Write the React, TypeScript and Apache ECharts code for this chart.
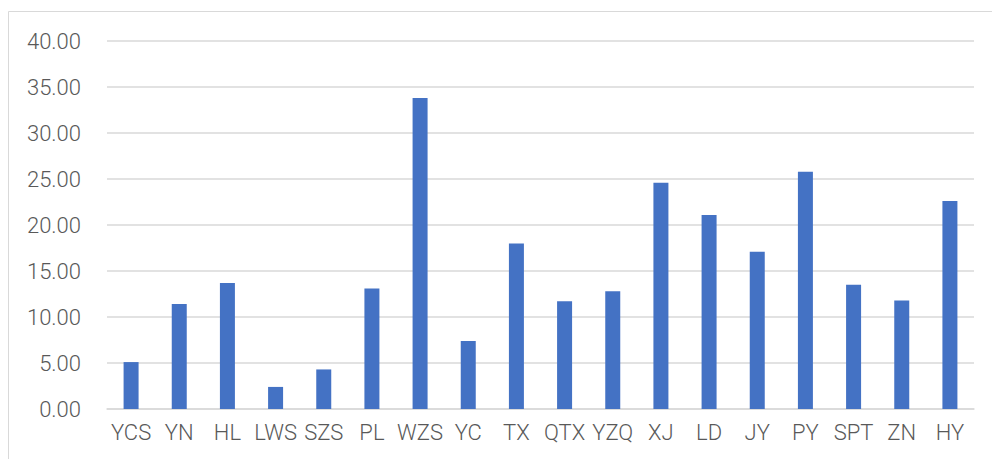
import React, { useEffect, useRef } from "react";
import * as echarts from "echarts";

const categories = ["YCS", "YN", "HL", "LWS", "SZS", "PL", "WZS", "YC", "TX", "QTX", "YZQ", "XJ", "LD", "JY", "PY", "SPT", "ZN", "HY"];
const values = [5.1, 11.4, 13.7, 2.4, 4.3, 13.1, 33.8, 7.4, 18.0, 11.7, 12.8, 24.6, 21.1, 17.1, 25.8, 13.5, 11.8, 22.6];

export default function App() {
  const ref = useRef<HTMLDivElement>(null);
  useEffect(() => {
    if (!ref.current) return;
    const chart = echarts.init(ref.current, undefined, { renderer: "svg" });
    chart.setOption({
      animation: false,
      backgroundColor: "#ffffff",
      textStyle: { fontFamily: "Roboto" },
      graphic: [
        {
          type: "rect",
          shape: { x: 8.5, y: 11.5, width: 1100, height: 600 },
          style: { fill: "none", stroke: "#d9d9d9", lineWidth: 1 },
          silent: true,
        },
      ],
      grid: { left: 107, right: 18, top: 41, bottom: 50 },
      xAxis: {
        type: "category",
        data: categories,
        axisLine: { lineStyle: { color: "#d9d9d9", width: 1.5 } },
        axisTick: { show: false },
        axisLabel: { color: "#595959", fontSize: 22, fontWeight: 300, margin: 12, interval: 0, fontFamily: "Roboto" },
      },
      yAxis: {
        type: "value",
        min: 0,
        max: 40,
        interval: 5,
        axisLine: { show: false },
        axisTick: { show: false },
        splitLine: { lineStyle: { color: "#d9d9d9", width: 1.5 } },
        axisLabel: {
          color: "#595959",
          fontSize: 22,
          fontWeight: 300,
          margin: 26,
          fontFamily: "Roboto",
          formatter: (v: number) => v.toFixed(2),
        },
      },
      series: [
        {
          type: "bar",
          data: values,
          barWidth: 15,
          itemStyle: { color: "#4472C4" },
        },
      ],
    });
    return () => chart.dispose();
  }, []);
  return (
    <div
      ref={ref}
      style={{ position: "fixed", left: 0, top: 0, width: 992, height: 459 }}
    />
  );
}
